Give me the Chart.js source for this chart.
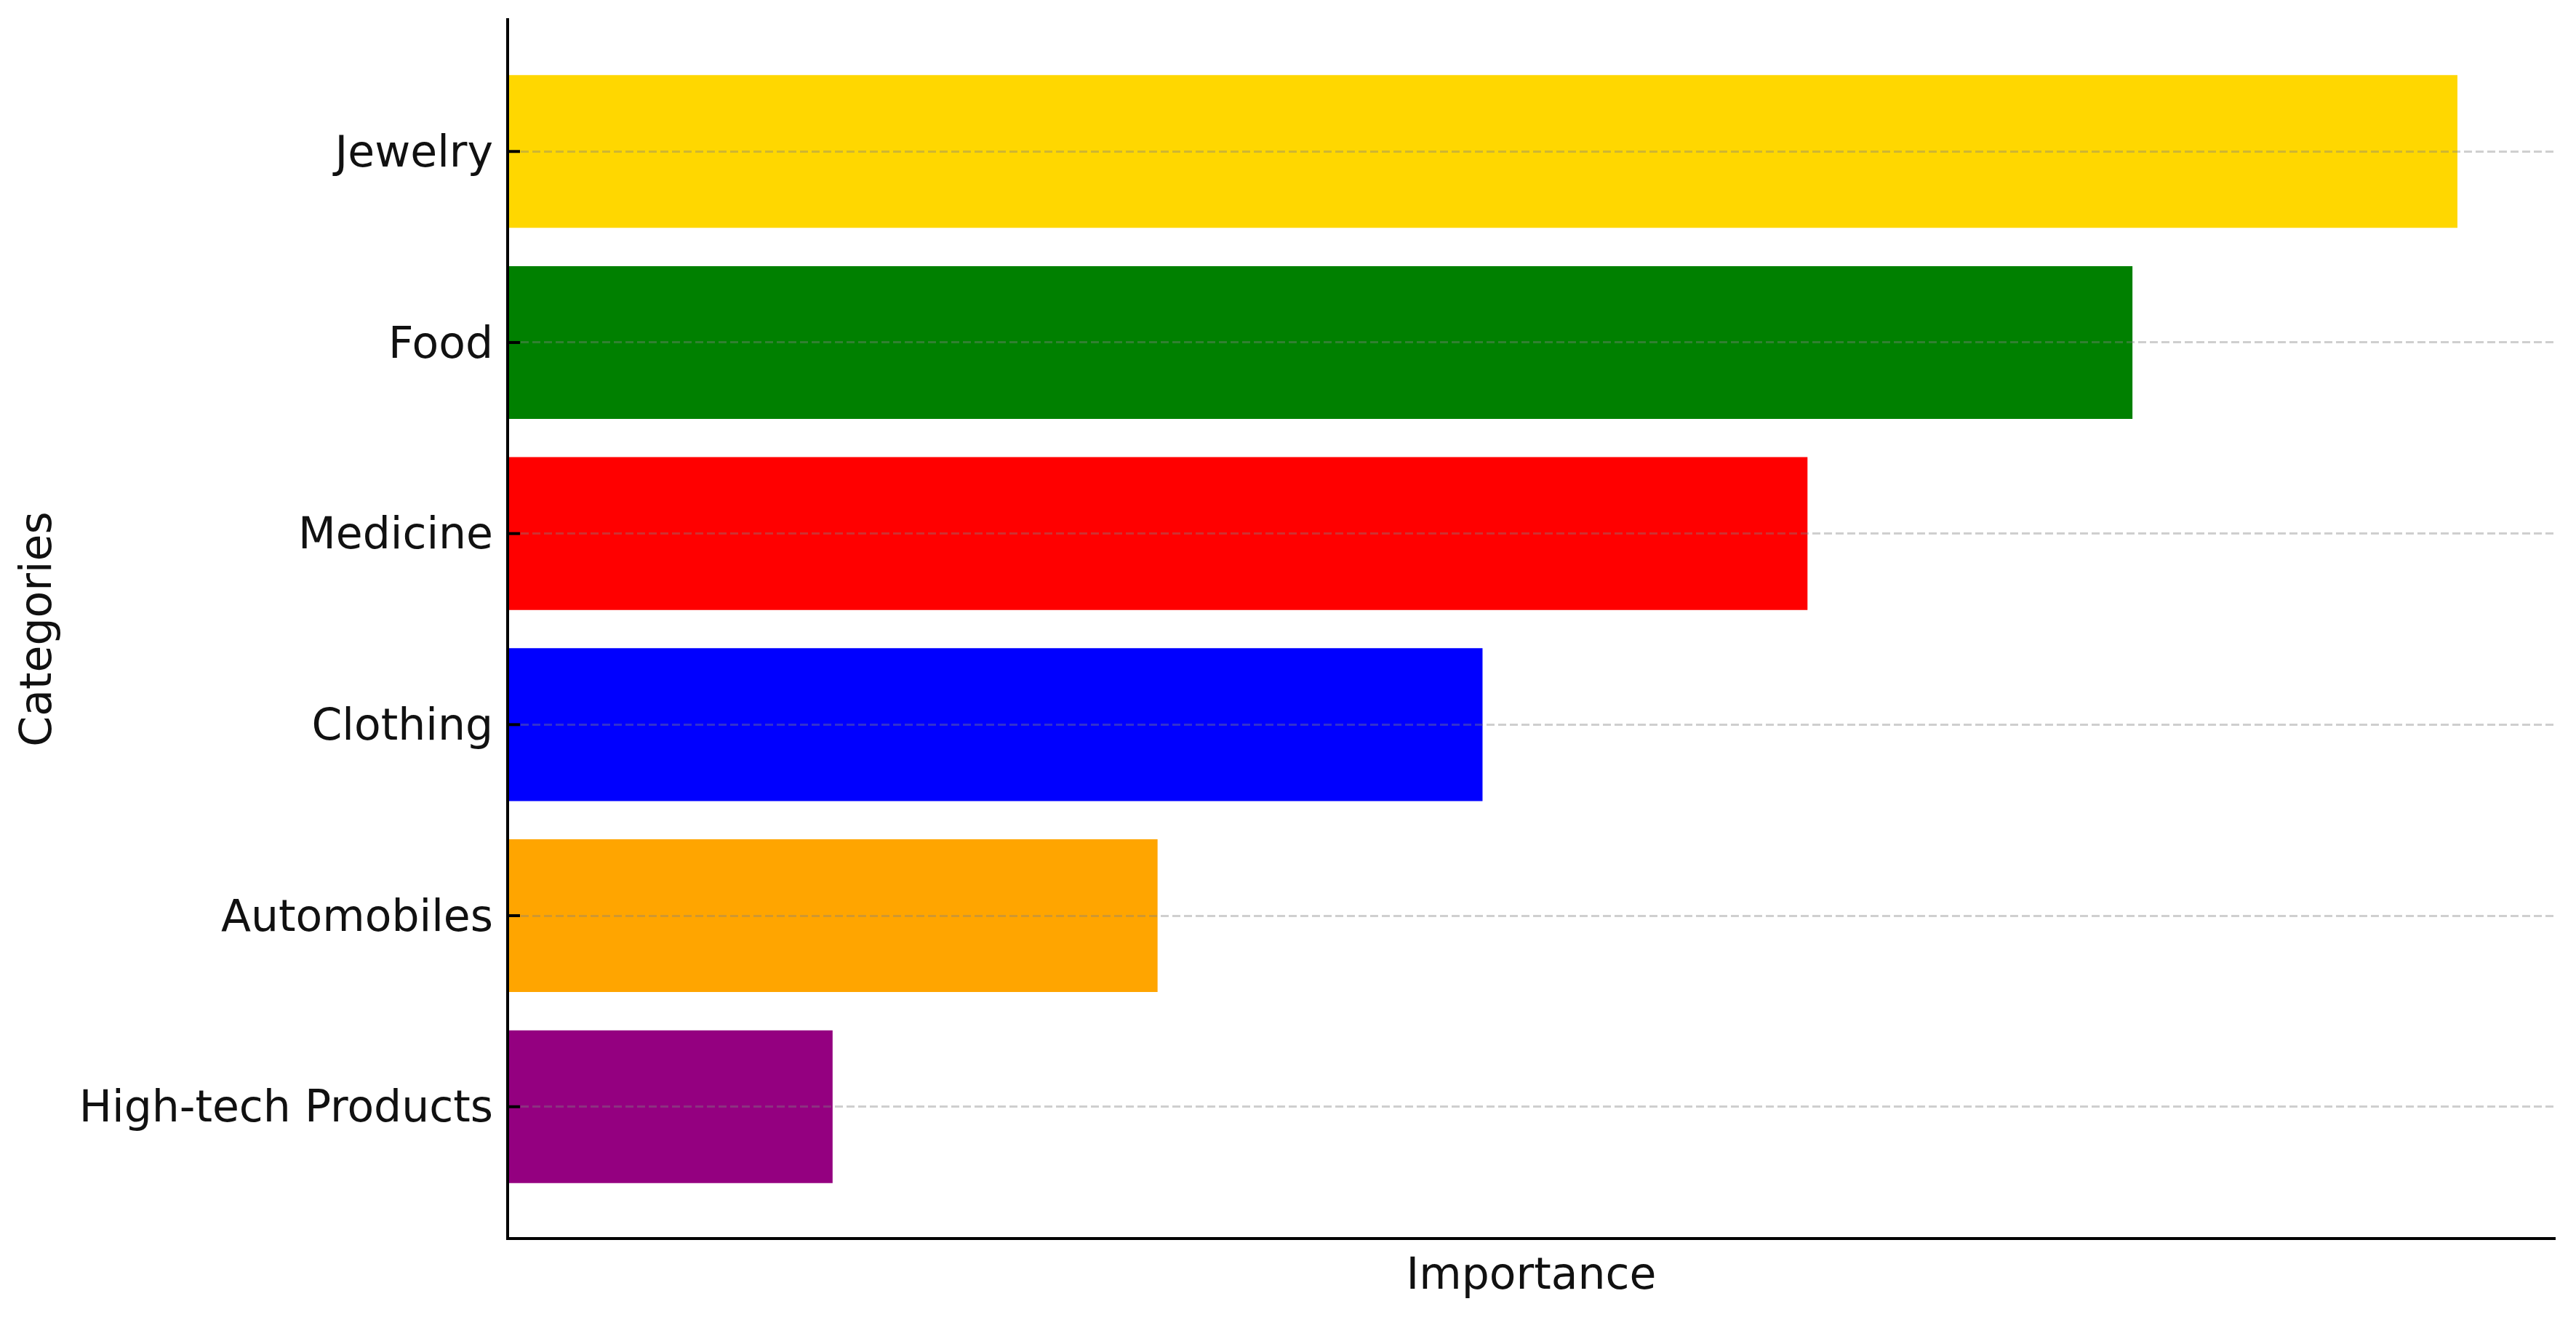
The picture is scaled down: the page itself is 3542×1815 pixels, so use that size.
<!DOCTYPE html>
<html>
<head>
<meta charset="utf-8">
<script src="https://cdn.jsdelivr.net/npm/chart.js@4"></script>
<style>
  html, body { margin: 0; padding: 0; background: #fff; }
  #wrap { width: 3542px; height: 1815px; }
</style>
</head>
<body>
<div id="wrap"><canvas id="barChart"></canvas></div>
<script>
// categories from top to bottom, as shown in the picture
const categories = ['Jewelry', 'Food', 'Medicine', 'Clothing', 'Automobiles', 'High-tech Products'];
const importance = [6, 5, 4, 3, 2, 1];
const barColors = ['#FFD700', '#008000', '#FF0000', '#0000FF', '#FFA500', '#940080'];

const textColor = '#111';
const font = { family: '"DejaVu Sans", sans-serif', size: 60 };

// small inward tick marks on the category axis
const innerTicks = {
  id: 'innerTicks',
  afterDraw(chart) {
    const { ctx, chartArea, scales } = chart;
    ctx.save();
    ctx.strokeStyle = '#000';
    ctx.lineWidth = 4;
    categories.forEach((c, i) => {
      const y = scales.y.getPixelForValue(i);
      ctx.beginPath();
      ctx.moveTo(chartArea.left, y);
      ctx.lineTo(chartArea.left + 17, y);
      ctx.stroke();
    });
    ctx.restore();
  }
};

const ctx = document.getElementById('barChart').getContext('2d');
new Chart(ctx, {
  type: 'bar',
  data: {
    datasets: [{
      data: importance.map((v, i) => ({ x: v, y: i })),
      backgroundColor: barColors,
      borderWidth: 0,
      barPercentage: 1,
      categoryPercentage: 0.8
    }]
  },
  options: {
    indexAxis: 'y',
    responsive: true,
    maintainAspectRatio: false,
    animation: false,
    layout: { padding: { top: 27, right: 29, left: 0, bottom: 0 } },
    plugins: {
      legend: { display: false },
      tooltip: { enabled: false }
    },
    scales: {
      x: {
        type: 'linear',
        min: 0,
        max: 6.3,
        grid: { display: false },
        border: { display: true, color: '#000', width: 4, z: 1 },
        ticks: { display: false },
        title: {
          display: true,
          text: 'Importance',
          color: textColor,
          font: font,
          padding: { top: 0, bottom: 23 }
        },
        afterFit(scale) {
          scale.height = 112;
          scale.paddingLeft = 0;
          scale.paddingRight = 0;
        }
      },
      y: {
        type: 'linear',
        reverse: true,
        min: -0.69,
        max: 5.69,
        offset: false,
        afterBuildTicks(axis) {
          axis.ticks = categories.map((c, i) => ({ value: i }));
        },
        grid: {
          offset: false,
          z: 1,
          color: 'rgba(128,128,128,0.38)',
          lineWidth: 3,
          drawTicks: false
        },
        border: { display: true, color: '#000', width: 4, dash: [11, 5], z: 1 },
        ticks: {
          autoSkip: false,
          padding: 20,
          labelOffset: 5,
          color: textColor,
          font: font,
          callback: v => categories[v]
        },
        title: {
          display: true,
          text: 'Categories',
          color: textColor,
          font: font,
          padding: { top: 18, bottom: 0 }
        },
        afterFit(scale) {
          scale.width = 698;
          scale.paddingTop = 0;
          scale.paddingBottom = 0;
        }
      }
    }
  },
  plugins: [innerTicks]
});
</script>
</body>
</html>
